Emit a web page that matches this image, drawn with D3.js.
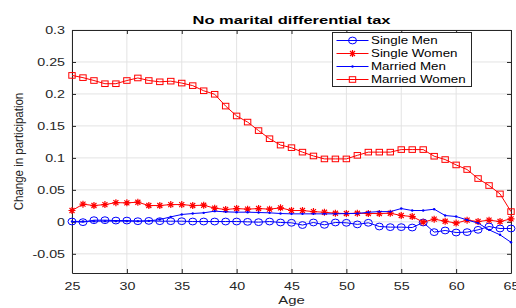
<!DOCTYPE html>
<html>
<head>
<meta charset="utf-8">
<script src="https://cdn.jsdelivr.net/npm/d3@7"></script>
<style>
  body { margin: 0; background: #fff; }
  svg { display: block; font-family: "Liberation Sans", Arial, sans-serif; }
</style>
</head>
<body>
<svg id="chart" width="516" height="308"></svg>
<script>
// ages 25..65
const ages = d3.range(25, 66);

const singleMen = [0.0005, -0.0005, 0.0026, 0.0026, 0.002, 0.002, 0.001, 0.0015, 0.001, 0.001,
  0.001, 0.0005, 0.0005, 0.0005, 0.0005, 0.0005, 0.0, -0.0005, 0.0005, -0.001,
  -0.0015, -0.005, -0.001, -0.0047, -0.001, -0.0015, -0.004, -0.0015, -0.0073, -0.0083,
  -0.0083, -0.0089, -0.001, -0.0161, -0.0135, -0.0167, -0.0161, -0.0125, -0.0073, -0.0104,
  -0.0104];

const singleWomen = [0.0177, 0.0276, 0.0255, 0.027, 0.030, 0.0297, 0.0307, 0.0255, 0.0255, 0.027,
  0.027, 0.0255, 0.026, 0.0214, 0.0193, 0.0208, 0.0198, 0.0208, 0.0198, 0.0219,
  0.0177, 0.0177, 0.016, 0.015, 0.0135, 0.013, 0.0135, 0.013, 0.013, 0.0135,
  0.0099, 0.0083, -0.0005, 0.0042, 0.001, -0.002, 0.0026, 0.0005, 0.0026, 0.0005,
  0.0047];

const marriedMen = [0.0006, 0.0008, 0.001, 0.0011, 0.0011, 0.0011, 0.0011, 0.0015, 0.0036, 0.0078,
  0.0115, 0.013, 0.0141, 0.0167, 0.0156, 0.0151, 0.0151, 0.0146, 0.0141, 0.013,
  0.0125, 0.0125, 0.0125, 0.0125, 0.0125, 0.013, 0.013, 0.015, 0.016, 0.016,
  0.0208, 0.0177, 0.0177, 0.0198, 0.0099, 0.0083, 0.003, -0.002, -0.0125, -0.0203,
  -0.032];

const marriedWomen = [0.229, 0.2255, 0.221, 0.216, 0.216, 0.221, 0.225, 0.221, 0.219, 0.220,
  0.217, 0.213, 0.205, 0.1995, 0.181, 0.1656, 0.156, 0.1427, 0.130, 0.120,
  0.116, 0.109, 0.103, 0.0984, 0.0984, 0.0984, 0.104, 0.109, 0.109, 0.109,
  0.113, 0.113, 0.113, 0.1026, 0.0974, 0.089, 0.0818, 0.0677, 0.0568, 0.0437,
  0.016];

const xTicks = [25, 30, 35, 40, 45, 50, 55, 60, 65];
const yTicks = [-0.05, 0, 0.05, 0.1, 0.15, 0.2, 0.25, 0.3];
const yTickLabels = ["-0.05", "0", "0.05", "0.1", "0.15", "0.2", "0.25", "0.3"];

const seriesNames = ["Single Men", "Single Women", "Married Men", "Married Women"];
const seriesValues = [singleMen, singleWomen, marriedMen, marriedWomen];
const seriesColors = ["#0000ff", "#ff0000", "#0000ff", "#ff0000"];
const seriesMarkers = ["circle", "star", "dot", "square"];

// layout
const pLeft = 72, pRight = 511, pTop = 30, pBottom = 273;
const axisColor = "#262626";
// the source figure is stretched sideways, so text is widened
const kTick = 1.36, kTitle = 1.5, kLabel = 1.42, kYLabel = 1.15, kLegend = 1.27;

const svg = d3.select("#chart");
const x = d3.scaleLinear().domain([25, 65]).range([pLeft, pRight]);
const y = d3.scaleLinear().domain([-0.08, 0.3]).range([pBottom, pTop]);

// grid
const grid = svg.append("g");
grid.selectAll(".gx").data(xTicks).enter().append("line")
  .attr("x1", d => x(d)).attr("x2", d => x(d))
  .attr("y1", pTop).attr("y2", pBottom)
  .attr("stroke", "#e3e3e3").attr("stroke-width", 1);
grid.selectAll(".gy").data(yTicks).enter().append("line")
  .attr("x1", pLeft).attr("x2", pRight)
  .attr("y1", d => y(d)).attr("y2", d => y(d))
  .attr("stroke", "#e3e3e3").attr("stroke-width", 1);

// axes (ticks inward, box on)
const fmt = d => yTickLabels[yTicks.indexOf(d)];
const xAxis = svg.append("g").attr("transform", `translate(0,${pBottom})`)
  .call(d3.axisBottom(x).tickValues(xTicks).tickSize(-4).tickPadding(9.5).tickSizeOuter(0));
const xTop = svg.append("g").attr("transform", `translate(0,${pTop})`)
  .call(d3.axisTop(x).tickValues(xTicks).tickSize(-4).tickFormat("").tickSizeOuter(0));
const yAxis = svg.append("g").attr("transform", `translate(${pLeft},0)`)
  .call(d3.axisLeft(y).tickValues(yTicks).tickFormat(fmt).tickSize(-4).tickSizeOuter(0));
const yRight = svg.append("g").attr("transform", `translate(${pRight},0)`)
  .call(d3.axisRight(y).tickValues(yTicks).tickSize(-4).tickFormat("").tickSizeOuter(0));

[xAxis, xTop, yAxis, yRight].forEach(g => {
  g.select(".domain").attr("stroke", axisColor).attr("stroke-width", 1);
  g.selectAll(".tick line").attr("stroke", axisColor);
  g.selectAll("text").attr("fill", axisColor).style("font-size", "10.5px")
    .style("font-family", "'Liberation Sans', Arial, sans-serif");
});
xAxis.selectAll("text").attr("transform", `scale(${kTick},1)`);
yAxis.selectAll("text").attr("x", -7 / kTick).attr("transform", `scale(${kTick},1)`);

// markers
function drawMarker(g, type, color) {
  if (type === "circle") {
    g.append("ellipse").attr("rx", 4).attr("ry", 3.4).attr("fill", "none").attr("stroke", color).attr("stroke-width", 1);
  } else if (type === "square") {
    g.append("rect").attr("x", -3.2).attr("y", -2.8).attr("width", 6.4).attr("height", 5.6)
      .attr("fill", "none").attr("stroke", color).attr("stroke-width", 1);
  } else if (type === "star") {
    const s = 3.5, a = 2.5;
    g.append("path").attr("d", `M0,${-s}V${s}M${-s},0H${s}M${-a},${-a}L${a},${a}M${-a},${a}L${a},${-a}`)
      .attr("stroke", color).attr("stroke-width", 1.2).attr("fill", "none");
  } else if (type === "dot") {
    g.append("circle").attr("r", 1.2).attr("fill", color);
  }
}

const line = d3.line().x((d, i) => x(ages[i])).y(d => y(d));

seriesValues.forEach((vals, k) => {
  const g = svg.append("g");
  g.append("path").datum(vals).attr("d", line)
    .attr("fill", "none").attr("stroke", seriesColors[k]).attr("stroke-width", 1);
  vals.forEach((v, i) => {
    const m = g.append("g").attr("transform", `translate(${x(ages[i])},${y(v)})`);
    drawMarker(m, seriesMarkers[k], seriesColors[k]);
  });
});

// title and labels
svg.append("text").attr("transform", `translate(${(pLeft + pRight) / 2},23.5) scale(${kTitle},1)`)
  .attr("text-anchor", "middle").style("font-size", "11px").style("font-weight", "bold")
  .attr("fill", "#000").text("No marital differential tax");
svg.append("text").attr("transform", `translate(${(pLeft + pRight) / 2},303.5) scale(${kLabel},1)`)
  .attr("text-anchor", "middle").style("font-size", "10.5px").attr("fill", axisColor).text("Age");
svg.append("text").attr("transform", `translate(22.5,${(pTop + pBottom) / 2}) scale(${kYLabel},1) rotate(-90)`)
  .attr("text-anchor", "middle").style("font-size", "11.5px").attr("fill", axisColor)
  .text("Change in participation");

// legend
const lg = svg.append("g").attr("transform", "translate(332.5,32.5)");
lg.append("rect").attr("width", 139).attr("height", 54).attr("fill", "#fff")
  .attr("stroke", axisColor).attr("stroke-width", 1);
seriesNames.forEach((name, k) => {
  const row = lg.append("g").attr("transform", `translate(0,${8 + k * 13})`);
  row.append("line").attr("x1", 4).attr("x2", 36).attr("stroke", seriesColors[k]).attr("stroke-width", 1);
  const m = row.append("g").attr("transform", "translate(20,0)");
  drawMarker(m, seriesMarkers[k], seriesColors[k]);
  row.append("text").attr("transform", `translate(38.5,3.8) scale(${kLegend},1)`)
    .style("font-size", "10.5px").attr("fill", "#000").text(name);
});
</script>
</body>
</html>
